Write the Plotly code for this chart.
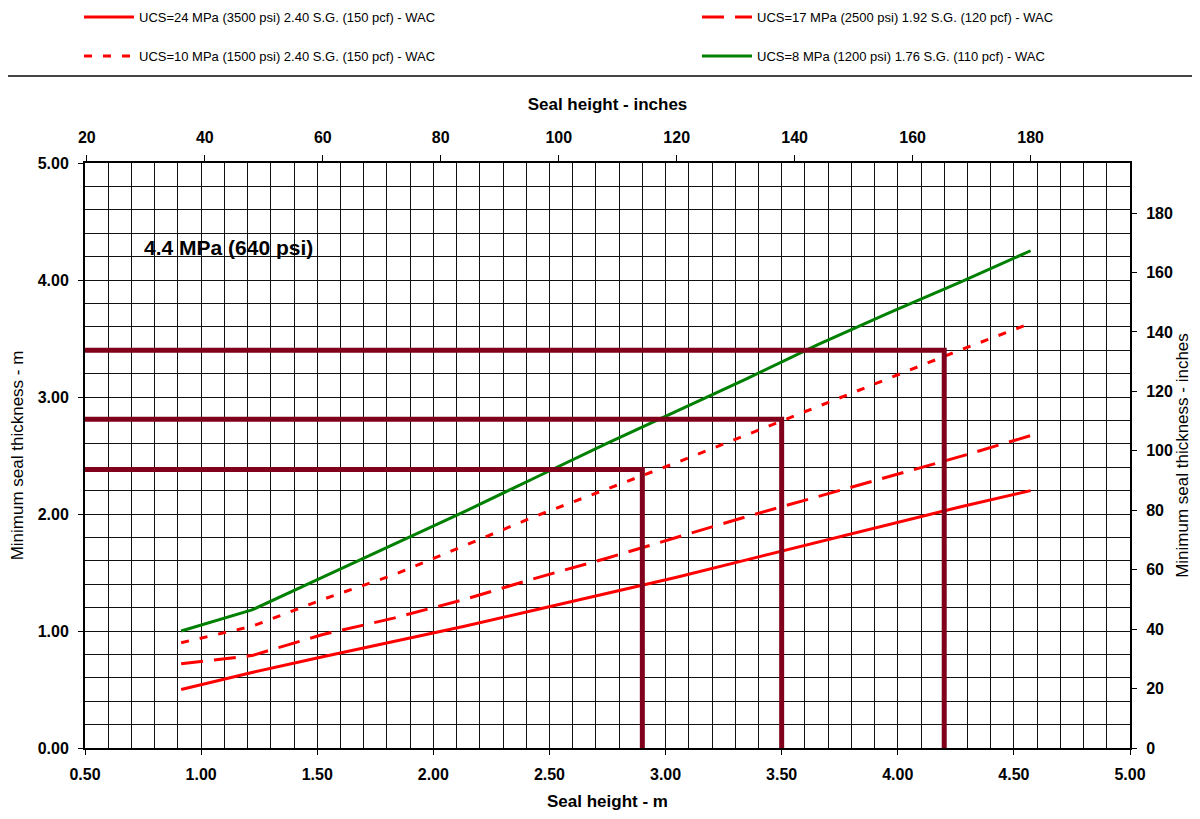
import plotly.graph_objects as go

# ---------------- data ----------------
M_PER_INCH = 0.0254

seal_height_m = [0.914, 1.219, 1.524, 1.829, 2.134, 2.438, 2.743,
                 3.048, 3.353, 3.658, 3.962, 4.267, 4.572]

ucs24_thk = [0.50, 0.645, 0.78, 0.91, 1.04, 1.18, 1.32,
             1.46, 1.61, 1.76, 1.91, 2.06, 2.20]
ucs17_thk = [0.72, 0.79, 0.97, 1.11, 1.27, 1.45, 1.62,
             1.80, 1.98, 2.15, 2.32, 2.49, 2.67]
ucs10_thk = [0.90, 1.04, 1.27, 1.48, 1.73, 1.98, 2.21,
             2.44, 2.68, 2.92, 3.16, 3.40, 3.63]
ucs8_thk = [1.00, 1.18, 1.46, 1.74, 2.02, 2.31, 2.60,
            2.88, 3.16, 3.45, 3.72, 3.98, 4.25]

series_names = [
    "UCS=24 MPa (3500 psi) 2.40 S.G. (150 pcf) - WAC",
    "UCS=17 MPa (2500 psi) 1.92 S.G. (120 pcf) - WAC",
    "UCS=10 MPa (1500 psi) 2.40 S.G. (150 pcf) - WAC",
    "UCS=8 MPa (1200 psi) 1.76 S.G. (110 pcf) - WAC",
]

guide_height_m = [2.9, 3.5, 4.2]
guide_thickness_m = [2.38, 2.81, 3.40]

x_range_m = [0.5, 5.0]
y_range_m = [0.0, 5.0]

annotation_text = "4.4 MPa (640 psi)"

# ---------------- layout geometry ----------------
# the page body has an 8px margin, so the figure is drawn 8px in from the edges
FIG_W, FIG_H = 1184, 803
ML, MR, MT, MB = 77, 62, 155, 63
PLOT_W = FIG_W - ML - MR
PLOT_H = FIG_H - MT - MB

FONT = "Arial, Liberation Sans, sans-serif"
GRID = "#111111"
MAROON = "#80001c"

fig = go.Figure()

styles = [
    dict(color="#ff0000", width=3, dash="solid"),
    dict(color="#ff0000", width=3, dash="22px,11px"),
    dict(color="#ff0000", width=3, dash="8px,11px"),
    dict(color="#008000", width=3, dash="solid"),
]
legend_ids = ["legend", "legend2", "legend3", "legend4"]
for name, ys, st, lg in zip(series_names, [ucs24_thk, ucs17_thk, ucs10_thk, ucs8_thk], styles, legend_ids):
    fig.add_trace(go.Scatter(x=seal_height_m, y=ys, mode="lines", name=name,
                             line=st, legend=lg, hoverinfo="x+y"))

for gx, gy in zip(guide_height_m, guide_thickness_m):
    fig.add_trace(go.Scatter(x=[x_range_m[0], gx, gx], y=[gy, gy, y_range_m[0]],
                             mode="lines", line=dict(color=MAROON, width=5),
                             showlegend=False, hoverinfo="skip"))

# empty trace so the secondary (inch) axes exist
fig.add_trace(go.Scatter(x=[None], y=[None], xaxis="x2", yaxis="y2",
                         showlegend=False, hoverinfo="skip"))

tickfont = dict(family=FONT, size=16, color="black", weight="bold")


def legend_box(px, py):
    # px, py: page pixel position of the legend line start / row centre
    return dict(
        orientation="h", xref="container", yref="container",
        x=(px - 8 - 6) / FIG_W, y=1 - (py - 8) / FIG_H,
        xanchor="left", yanchor="middle", itemwidth=50,
        font=dict(family=FONT, size=13, color="black"),
        bgcolor="rgba(0,0,0,0)",
    )


common = dict(showline=True, linecolor="black", linewidth=2, zeroline=False,
              tickcolor="black", tickwidth=1, tickfont=tickfont,
              ticklabelstandoff=6, automargin=False)

fig.update_layout(
    width=FIG_W, height=FIG_H, autosize=False,
    margin=dict(l=ML, r=MR, t=MT, b=MB),
    paper_bgcolor="white", plot_bgcolor="white",
    font=dict(family=FONT, color="black"),
    xaxis=dict(
        range=x_range_m, tickmode="linear", tick0=0.5, dtick=0.5, tickformat=".2f",
        showgrid=True, gridcolor=GRID, gridwidth=1,
        minor=dict(tick0=0.5, dtick=0.1, showgrid=True, gridcolor=GRID, gridwidth=1),
        ticks="outside", ticklen=5,
        title=dict(text="Seal height - m", font=dict(family=FONT, size=17, weight="bold"), standoff=17),
        **common,
    ),
    yaxis=dict(
        range=y_range_m, tickmode="linear", tick0=0, dtick=1, tickformat=".2f",
        showgrid=True, gridcolor=GRID, gridwidth=1,
        minor=dict(tick0=0, dtick=0.2, showgrid=True, gridcolor=GRID, gridwidth=1),
        ticks="outside", ticklen=5,
        title=dict(text="Minimum seal thickness - m", font=dict(family=FONT, size=17), standoff=10),
        **common,
    ),
    xaxis2=dict(
        overlaying="x", side="top", anchor="y",
        range=[x_range_m[0] / M_PER_INCH, x_range_m[1] / M_PER_INCH],
        tickmode="linear", tick0=20, dtick=20, showgrid=False,
        ticks="outside", ticklen=6,
        title=dict(text="Seal height - inches", font=dict(family=FONT, size=17, weight="bold"), standoff=14),
        **common,
    ),
    yaxis2=dict(
        overlaying="y", side="right", anchor="x",
        range=[y_range_m[0] / M_PER_INCH, y_range_m[1] / M_PER_INCH],
        tickmode="linear", tick0=0, dtick=20, showgrid=False,
        ticks="outside", ticklen=5,
        title=dict(text="Minimum seal thickness - inches", font=dict(family=FONT, size=17), standoff=6),
        **common,
    ),
    legend=legend_box(85, 17),
    legend2=legend_box(703, 17),
    legend3=legend_box(85, 56),
    legend4=legend_box(703, 56),
    showlegend=True,
)

# separator line under the legend (page y = 76)
sep_y = (FIG_H - MB - (76 - 8)) / PLOT_H
fig.add_shape(type="line", xref="paper", yref="paper",
              x0=-ML / PLOT_W, x1=(FIG_W - ML) / PLOT_W,
              y0=sep_y, y1=sep_y,
              line=dict(color="#444444", width=2))

fig.add_annotation(x=0.745, y=4.28, xref="x", yref="y", text=annotation_text,
                   showarrow=False, xanchor="left", yanchor="middle",
                   font=dict(family=FONT, size=21, color="black", weight="bold"))

fig.write_html("out.html")
